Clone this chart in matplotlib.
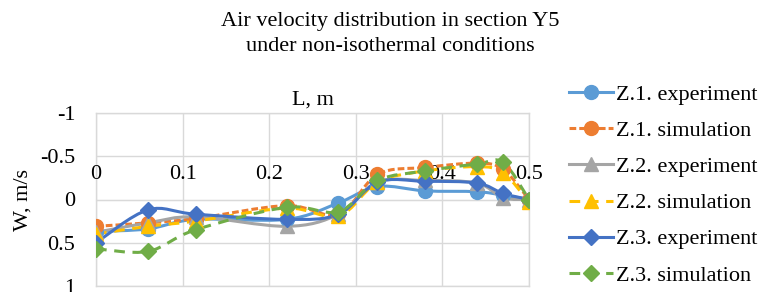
import numpy as np
import matplotlib
matplotlib.use('Agg')
import matplotlib.pyplot as plt
from matplotlib.path import Path
from matplotlib.patches import PathPatch
from matplotlib.lines import Line2D

plt.rcParams.update({
    'font.family': ['Liberation Serif', 'DejaVu Serif'],
    'font.size': 16,
})

# data
L = [0, 0.06, 0.115, 0.22, 0.28, 0.325, 0.38, 0.44, 0.47, 0.5]
z1_exp = [0.37, 0.34, 0.23, 0.23, 0.04, -0.15, -0.10, -0.09, -0.05, 0.0]
z1_sim = [0.31, 0.27, 0.22, 0.07, 0.17, -0.29, -0.37, -0.42, -0.35, 0.0]
z2_exp = [0.38, 0.27, 0.20, 0.31, 0.17, -0.20, -0.22, -0.19, -0.02, 0.0]
z2_sim = [0.40, 0.31, 0.25, 0.10, 0.19, -0.20, -0.33, -0.38, -0.31, 0.03]
z3_exp = [0.50, 0.12, 0.17, 0.23, 0.17, -0.20, -0.21, -0.19, -0.07, 0.0]
z3_sim = [0.57, 0.60, 0.35, 0.09, 0.14, -0.22, -0.33, -0.41, -0.43, 0.0]

labels = ['Z.1. experiment', 'Z.1. simulation', 'Z.2. experiment',
          'Z.2. simulation', 'Z.3. experiment', 'Z.3. simulation']
series = [z1_exp, z1_sim, z2_exp, z2_sim, z3_exp, z3_sim]
colors = ['#5B9BD5', '#ED7D31', '#A5A5A5', '#FFC000', '#4472C4', '#70AD47']
markers = ['o', 'o', '^', '^', 'D', 'D']
msizes = [10, 10, 10, 10, 8.5, 8.5]
styles = ['-', (0, (2.2, 1.0)), '-', (0, (3.5, 2.5)), '-', (0, (3.5, 2.5))]

yticks = [-1, -0.5, 0, 0.5, 1]
xticks = [0, 0.1, 0.2, 0.3, 0.4, 0.5]


# smooth line like Excel (cubic bezier through the points)
def smooth_path(xs, ys, t=1 / 6):
    p = np.column_stack([xs, ys]).astype(float)
    n = len(p)
    verts = [p[0]]
    codes = [Path.MOVETO]
    for i in range(n - 1):
        p0 = p[i - 1] if i > 0 else p[i]
        p3 = p[i + 2] if i + 2 < n else p[i + 1]
        c1 = p[i] + (p[i + 1] - p0) * t
        c2 = p[i + 1] - (p3 - p[i]) * t
        verts += [c1, c2, p[i + 1]]
        codes += [Path.CURVE4] * 3
    return Path(verts, codes)


fig = plt.figure(figsize=(7.66, 2.92), dpi=100)
ax = fig.add_axes([96 / 766, 6 / 292, 433 / 766, 173 / 292])

handles = []
for ys, c, m, ms, ls, lab in zip(series, colors, markers, msizes, styles, labels):
    patch = PathPatch(smooth_path(L, ys), facecolor='none', edgecolor=c,
                      linewidth=2.2, linestyle=ls, zorder=3)
    ax.add_patch(patch)
    ax.plot(L, ys, linestyle='none', marker=m, markersize=ms, color=c,
            markeredgecolor=c, zorder=4)
    handles.append(Line2D([], [], color=c, lw=2.2, linestyle=ls, marker=m,
                          markersize=ms, markeredgecolor=c, label=lab))

ax.set_xlim(0, 0.5)
ax.set_ylim(1, -1)
ax.set_yticks(yticks)
ax.set_yticklabels(['-1', '-0.5', '0', '0.5', '1'])
ax.set_xticks(xticks)
ax.set_xticklabels(['0', '0.1', '0.2', '0.3', '0.4', '0.5'])
ax.xaxis.tick_top()
ax.spines['top'].set_position(('data', 0))
ax.spines['top'].set_color('#D9D9D9')
for s in ['left', 'right', 'bottom']:
    ax.spines[s].set_visible(False)
ax.tick_params(axis='x', length=0, pad=11)
ax.tick_params(axis='y', length=0, pad=15)
ax.grid(True, color='#D9D9D9', linewidth=1)
ax.set_axisbelow(True)

# keep outer grid borders
for v in [-1, 1]:
    ax.axhline(v, color='#D9D9D9', lw=1, zorder=0, clip_on=False)
for v in [0, 0.5]:
    ax.axvline(v, color='#D9D9D9', lw=1, zorder=0, clip_on=False)

fig.text(23 / 766, 1 - 200 / 292, 'W, m/s', rotation=90, ha='center', va='center')
fig.text(313 / 766, 1 - 100 / 292, 'L, m', ha='center', va='center')
fig.text(390 / 766, 1 - 34 / 292,
         'Air velocity distribution in section Y5\nunder non-isothermal conditions',
         ha='center', va='center', linespacing=1.45)

fig.legend(handles=handles, loc='center left', bbox_to_anchor=(569 / 766, 1 - 185 / 292),
           frameon=False, handlelength=2.0, handletextpad=0.1, labelspacing=0.7,
           borderaxespad=0, borderpad=0)

fig.savefig('out.png', dpi=100)
